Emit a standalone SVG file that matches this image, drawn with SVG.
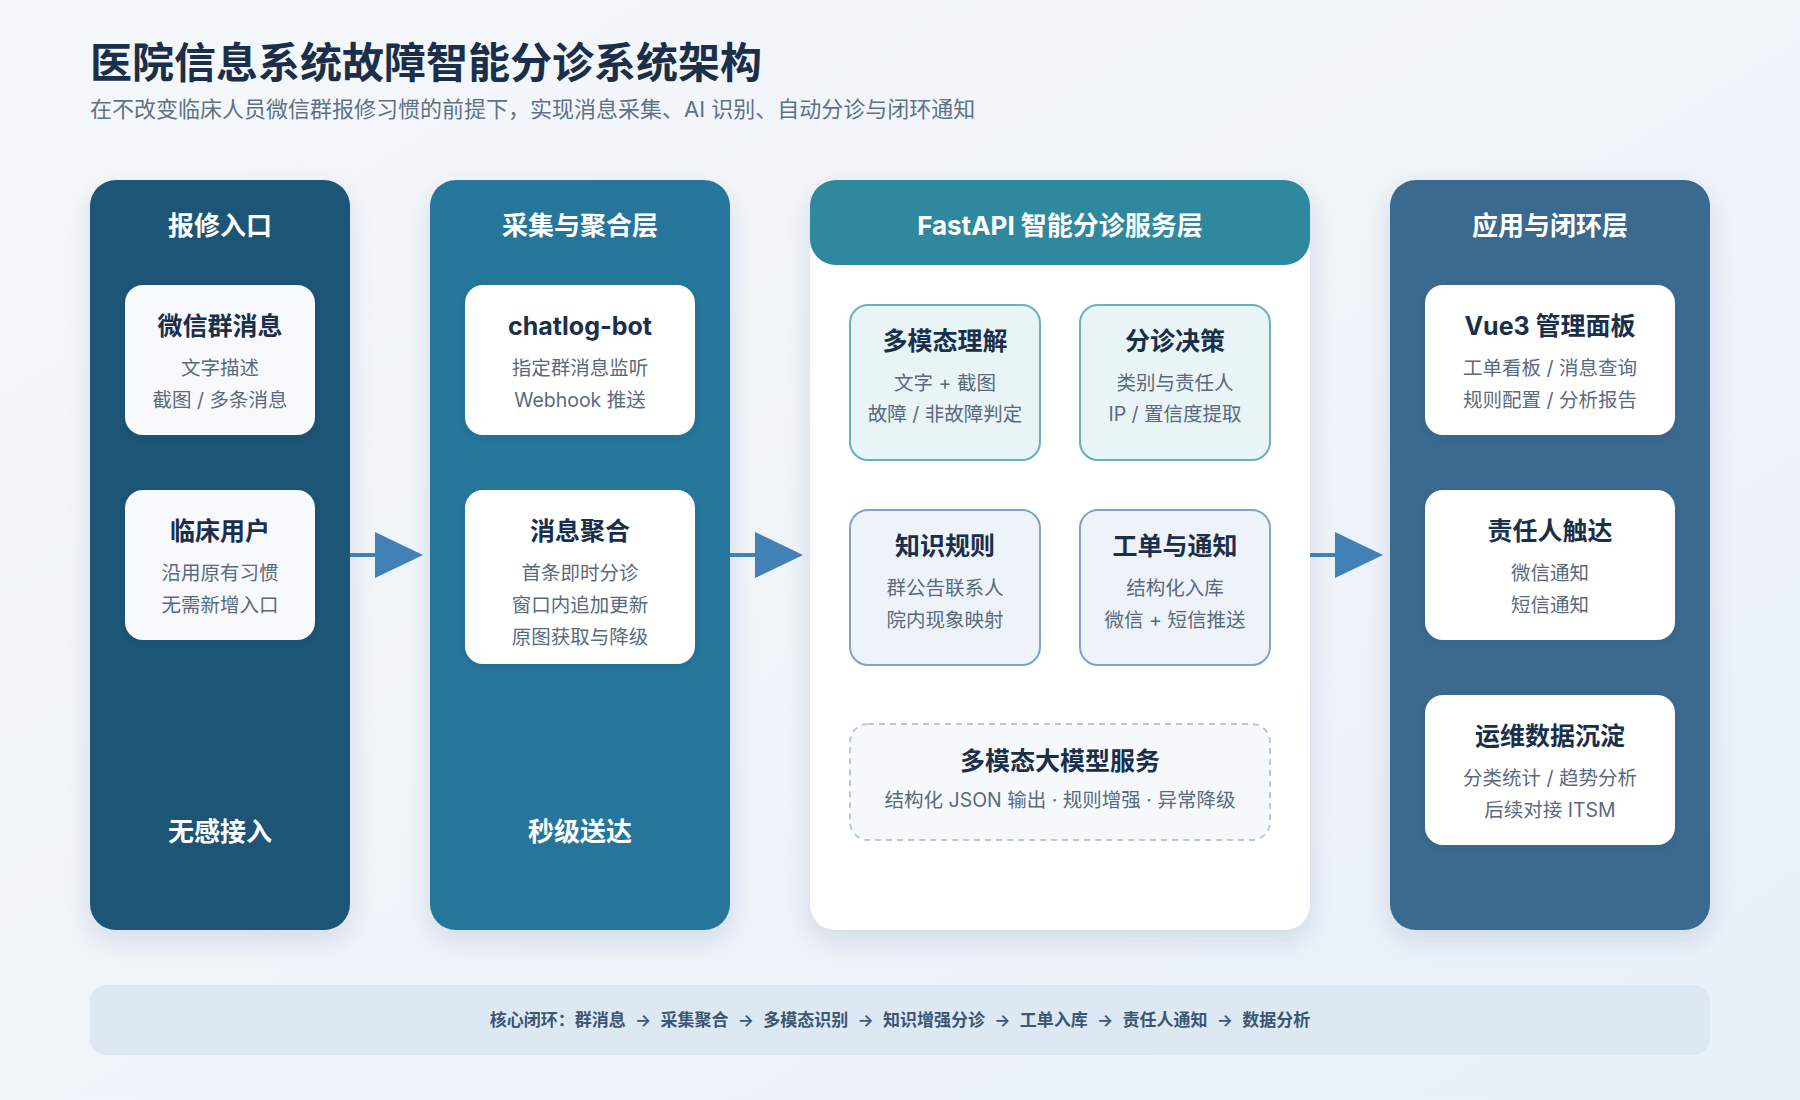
<svg xmlns="http://www.w3.org/2000/svg" width="1800" height="1100" viewBox="0 0 1800 1100">
<defs>
<linearGradient id="bg" x1="0" y1="0" x2="1" y2="1">
<stop offset="0" stop-color="#f5f8fb"/>
<stop offset="1" stop-color="#e9f0f8"/>
</linearGradient>
<filter id="sh" x="-20%" y="-10%" width="140%" height="130%">
<feDropShadow dx="0" dy="10" stdDeviation="12" flood-color="#1d3a5c" flood-opacity="0.12"/>
</filter>
<filter id="sh2" x="-20%" y="-20%" width="140%" height="150%">
<feDropShadow dx="0" dy="3" stdDeviation="4" flood-color="#0d2a44" flood-opacity="0.10"/>
</filter>
<style>
text{font-family:"Inter","Noto Sans CJK SC","Noto Sans",sans-serif;text-anchor:middle}
.ti{font-size:42px;font-weight:700;fill:#1b2f4a;text-anchor:start}
.st{font-size:22px;fill:#5f7186;text-anchor:start}
.h{font-size:26px;font-weight:700;fill:#ffffff}
.t{font-size:25px;font-weight:700;fill:#1b2f4a}
.s{font-size:19.5px;fill:#5a6a7e}
.card{fill:#ffffff}
.card1{fill:#f7f9fc}
.tl{fill:#e8f4f6;stroke:#6aaebf;stroke-width:2}
.bl{fill:#eef3fa;stroke:#7fa3c9;stroke-width:2}
.ar{fill:#4281b5}
.al{stroke:#4281b5;stroke-width:4}
.loop{font-size:17px;font-weight:600;fill:#3d5672;word-spacing:5px}
</style>
</defs>
<rect width="1800" height="1100" fill="url(#bg)"/>

<text class="ti" x="90" y="78">医院信息系统故障智能分诊系统架构</text>
<text class="st" x="90" y="117">在不改变临床人员微信群报修习惯的前提下，实现消息采集、AI 识别、自动分诊与闭环通知</text>

<g id="col-entry">
<rect x="90" y="180" width="260" height="750" rx="26" fill="#1f5475" filter="url(#sh)"/>
<text class="h" x="220" y="235">报修入口</text>
<text class="h" x="220" y="841">无感接入</text>
</g>
<g id="node-wechat">
<rect class="card1" x="125" y="285" width="190" height="150" rx="18" filter="url(#sh2)"/>
<text class="t" x="220" y="335">微信群消息</text>
<text class="s" x="220" y="375">文字描述</text>
<text class="s" x="220" y="407">截图 / 多条消息</text>
</g>
<g id="node-clinical">
<rect class="card1" x="125" y="490" width="190" height="150" rx="18" filter="url(#sh2)"/>
<text class="t" x="220" y="540">临床用户</text>
<text class="s" x="220" y="580">沿用原有习惯</text>
<text class="s" x="220" y="612">无需新增入口</text>
</g>

<g id="col-collect">
<rect x="430" y="180" width="300" height="750" rx="26" fill="#27769b" filter="url(#sh)"/>
<text class="h" x="580" y="235">采集与聚合层</text>
<text class="h" x="580" y="841">秒级送达</text>
</g>
<g id="node-chatlog">
<rect class="card" x="465" y="285" width="230" height="150" rx="18" filter="url(#sh2)"/>
<text class="t" x="580" y="335">chatlog-bot</text>
<text class="s" x="580" y="375">指定群消息监听</text>
<text class="s" x="580" y="407">Webhook 推送</text>
</g>
<g id="node-aggregate">
<rect class="card" x="465" y="490" width="230" height="174" rx="18" filter="url(#sh2)"/>
<text class="t" x="580" y="540">消息聚合</text>
<text class="s" x="580" y="580">首条即时分诊</text>
<text class="s" x="580" y="612">窗口内追加更新</text>
<text class="s" x="580" y="644">原图获取与降级</text>
</g>

<g id="col-fastapi">
<rect x="810" y="180" width="500" height="750" rx="26" fill="#ffffff" filter="url(#sh)"/>
<rect x="810" y="180" width="500" height="85" rx="26" fill="#2e899f"/>
<text class="h" x="1060" y="235">FastAPI 智能分诊服务层</text>
</g>
<g id="node-multimodal">
<rect class="tl" x="850" y="305" width="190" height="155" rx="18"/>
<text class="t" x="945" y="350">多模态理解</text>
<text class="s" x="945" y="390">文字 + 截图</text>
<text class="s" x="945" y="421">故障 / 非故障判定</text>
</g>
<g id="node-decision">
<rect class="tl" x="1080" y="305" width="190" height="155" rx="18"/>
<text class="t" x="1175" y="350">分诊决策</text>
<text class="s" x="1175" y="390">类别与责任人</text>
<text class="s" x="1175" y="421">IP / 置信度提取</text>
</g>
<g id="node-knowledge">
<rect class="bl" x="850" y="510" width="190" height="155" rx="18"/>
<text class="t" x="945" y="555">知识规则</text>
<text class="s" x="945" y="595">群公告联系人</text>
<text class="s" x="945" y="627">院内现象映射</text>
</g>
<g id="node-ticket">
<rect class="bl" x="1080" y="510" width="190" height="155" rx="18"/>
<text class="t" x="1175" y="555">工单与通知</text>
<text class="s" x="1175" y="595">结构化入库</text>
<text class="s" x="1175" y="627">微信 + 短信推送</text>
</g>
<g id="node-llm">
<rect x="850" y="724" width="420" height="116" rx="18" fill="#f5f9fc" stroke="#b8c8d8" stroke-width="2" stroke-dasharray="6 5"/>
<text class="t" x="1060" y="770">多模态大模型服务</text>
<text class="s" x="1060" y="807">结构化 JSON 输出 · 规则增强 · 异常降级</text>
</g>

<g id="col-app">
<rect x="1390" y="180" width="320" height="750" rx="26" fill="#3b6a90" filter="url(#sh)"/>
<text class="h" x="1550" y="235">应用与闭环层</text>
</g>
<g id="node-vue">
<rect class="card" x="1425" y="285" width="250" height="150" rx="18" filter="url(#sh2)"/>
<text class="t" x="1550" y="335">Vue3 管理面板</text>
<text class="s" x="1550" y="375">工单看板 / 消息查询</text>
<text class="s" x="1550" y="407">规则配置 / 分析报告</text>
</g>
<g id="node-notify">
<rect class="card" x="1425" y="490" width="250" height="150" rx="18" filter="url(#sh2)"/>
<text class="t" x="1550" y="540">责任人触达</text>
<text class="s" x="1550" y="580">微信通知</text>
<text class="s" x="1550" y="612">短信通知</text>
</g>
<g id="node-ops">
<rect class="card" x="1425" y="695" width="250" height="150" rx="18" filter="url(#sh2)"/>
<text class="t" x="1550" y="745">运维数据沉淀</text>
<text class="s" x="1550" y="785">分类统计 / 趋势分析</text>
<text class="s" x="1550" y="817">后续对接 ITSM</text>
</g>

<g id="connectors">
<line class="al" x1="350" y1="555" x2="377" y2="555"/>
<polygon class="ar" points="375,532 423,555 375,578"/>
<line class="al" x1="730" y1="555" x2="757" y2="555"/>
<polygon class="ar" points="755,532 803,555 755,578"/>
<line class="al" x1="1310" y1="555" x2="1337" y2="555"/>
<polygon class="ar" points="1335,532 1383,555 1335,578"/>
</g>

<g id="loop-band">
<rect x="90" y="985" width="1620" height="70" rx="16" fill="#dce8f2"/>
<text class="loop" x="900" y="1026">核心闭环：群消息 → 采集聚合 → 多模态识别 → 知识增强分诊 → 工单入库 → 责任人通知 → 数据分析</text>
</g>
</svg>
